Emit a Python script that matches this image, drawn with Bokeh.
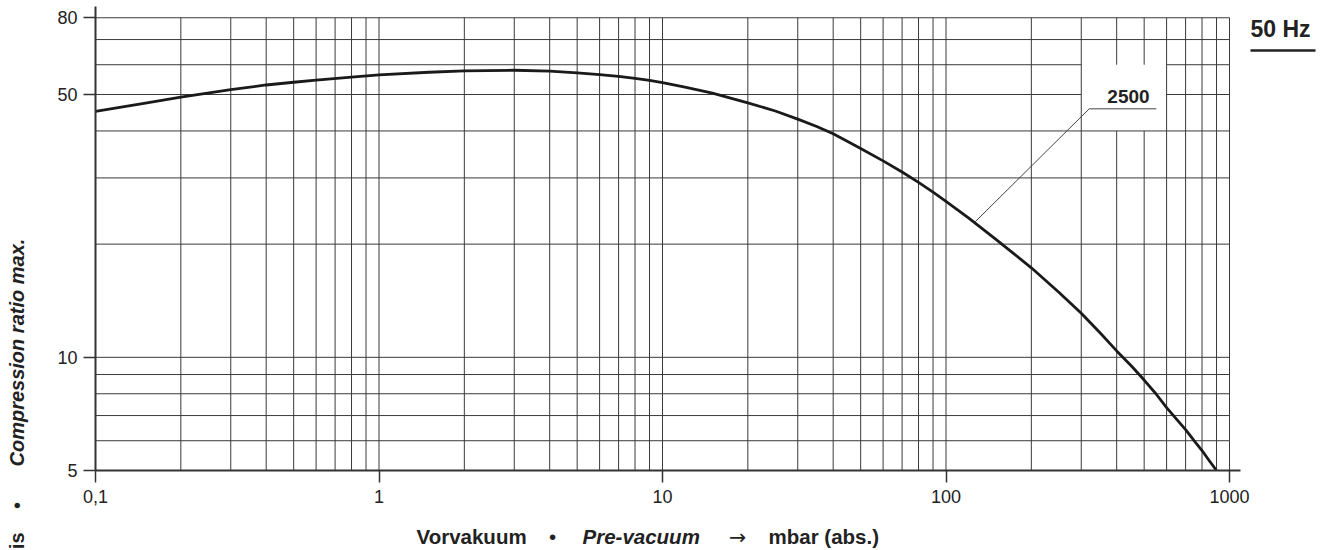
import numpy as np
from bokeh.plotting import figure
from bokeh.models import Range1d, FixedTicker, CustomJSTickFormatter, Label, BoxAnnotation
from bokeh.embed import file_html
from bokeh.resources import INLINE

# ---- data ----
pressure = [0.1, 0.15, 0.2, 0.3, 0.4, 0.5, 0.6, 0.8, 1.0, 1.5,
            2, 3, 4, 5, 6, 7, 8, 9, 10, 12,
            15, 20, 25, 30, 35, 40, 45, 50, 60, 70,
            80, 90, 100, 120, 150, 200, 250, 300, 350, 400,
            450, 500, 550, 600, 650, 700, 750, 800, 850, 900]
compression = [45.1, 47.4, 49.2, 51.5, 53.0, 53.9, 54.6, 55.6, 56.4, 57.3,
               57.8, 58.0, 57.7, 57.1, 56.5, 55.9, 55.2, 54.5, 53.8, 52.3,
               50.4, 47.5, 45.2, 43.0, 41.1, 39.3, 37.5, 35.9, 33.3, 31.1,
               29.2, 27.5, 26.0, 23.5, 20.6, 17.3, 14.9, 13.1, 11.6, 10.4,
               9.5, 8.7, 8.0, 7.35, 6.85, 6.42, 6.0, 5.65, 5.3, 5.0]
series_name = "2500"

x_tick_values = [0.1, 1, 10, 100, 1000]
x_tick_labels = ["0,1", "1", "10", "100", "1000"]
y_tick_values = [5, 10, 50, 80]
y_tick_labels = ["5", "10", "50", "80"]

x_grid = [0.2, 0.3, 0.4, 0.5, 0.6, 0.7, 0.8, 0.9,
          1, 2, 3, 4, 5, 6, 7, 8, 9,
          10, 20, 30, 40, 50, 60, 70, 80, 90,
          100, 200, 300, 400, 500, 600, 700, 800, 900, 1000]
y_grid = [6, 7, 8, 9, 10, 20, 30, 40, 50, 60, 70, 80]
x_min, x_max = 0.1, 1000
y_min, y_max = 5, 80

# label box (grid left blank behind the series label)
gap_x = (300, 600)
gap_y = (40, 60)
leader_x = [126.5, 320, 552]
leader_y = [22.9, 45.8, 45.8]

# ---- layout geometry (canvas pixels) ----
W, H = 1328, 548
X0, XDEC = 95.0, 283.5      # pixel of 0.1 and pixels per decade
Y5, YDEC = 470.0, 376.0     # pixel of 5 and pixels per decade
x_start = 0.1 * 10 ** (-X0 / XDEC)
x_end = 0.1 * 10 ** ((W - X0) / XDEC)
y_start = 5 * 10 ** (-(H - Y5) / YDEC)
y_end = 5 * 10 ** (Y5 / YDEC)
x_axis_end = 0.1 * 10 ** ((1240 - X0) / XDEC)
y_axis_end = 5 * 10 ** ((Y5 - 6) / YDEC)

FONT = "Liberation Sans"
INK = "#222222"
BASE_SHIFT = 0.38  # em: label anchor vs. visual baseline

p = figure(width=W, height=H, x_axis_type="log", y_axis_type="log",
           x_range=Range1d(x_start, x_end), y_range=Range1d(y_start, y_end),
           output_backend="svg", toolbar_location=None,
           min_border_left=0, min_border_right=0, min_border_top=0, min_border_bottom=0)
p.outline_line_color = None
p.xgrid.visible = False
p.ygrid.visible = False
p.background_fill_color = "white"
p.border_fill_color = "white"

# ---- grid ----
x0s, y0s, x1s, y1s = [], [], [], []
for xv in x_grid:
    if gap_x[0] < xv < gap_x[1]:
        x0s += [xv, xv]; x1s += [xv, xv]
        y0s += [y_min, gap_y[1]]; y1s += [gap_y[0], y_max]
    else:
        x0s.append(xv); x1s.append(xv); y0s.append(y_min); y1s.append(y_max)
for yv in y_grid:
    if gap_y[0] < yv <= gap_y[1]:
        y0s += [yv, yv]; y1s += [yv, yv]
        x0s += [x_min, gap_x[1]]; x1s += [gap_x[0], x_max]
    else:
        y0s.append(yv); y1s.append(yv); x0s.append(x_min); x1s.append(x_max)
p.segment(x0=x0s, y0=y0s, x1=x1s, y1=y1s, line_color="#3a3a3a", line_width=1)

# ---- curve ----
p.line(pressure, compression, line_color="#1a1a1a", line_width=2.8, line_join="round")

# ---- leader ----
p.line(leader_x, leader_y, line_color="#444444", line_width=1)

# ---- axes ----
def fmt(vals, labs):
    return CustomJSTickFormatter(args=dict(vals=vals, labs=labs), code="""
        for (let i = 0; i < vals.length; i++) {
            if (Math.abs(Math.log10(vals[i]) - Math.log10(tick)) < 1e-6) return labs[i];
        }
        return "";
    """)

for ax in (p.xaxis[0], p.yaxis[0]):
    ax.axis_line_width = 2
    ax.axis_line_color = "#333333"
    ax.major_tick_line_color = "#333333"
    ax.major_tick_line_width = 1.5
    ax.major_tick_out = 12
    ax.major_tick_in = 0
    ax.minor_tick_line_color = None
    ax.major_label_text_font = FONT
    ax.major_label_text_font_size = "18px"
    ax.major_label_text_color = INK

p.xaxis.ticker = FixedTicker(ticks=x_tick_values)
p.xaxis.formatter = fmt(x_tick_values, x_tick_labels)
p.xaxis.major_label_standoff = 7
p.xaxis.fixed_location = y_min
p.xaxis.bounds = (x_min, x_axis_end)
p.yaxis.ticker = FixedTicker(ticks=y_tick_values)
p.yaxis.formatter = fmt(y_tick_values, y_tick_labels)
p.yaxis.major_label_standoff = 6
p.yaxis.fixed_location = x_min
p.yaxis.bounds = (y_min, y_axis_end)

# ---- texts (canvas pixels from top-left; (x, y) = visual baseline point) ----
def lab(text, x, y, style="bold", align="left", rotated=False, size=20.0, font=FONT):
    shift = BASE_SHIFT * size
    if rotated:
        ax_, ay_ = x - shift, y
    else:
        ax_, ay_ = x, y - shift
    p.add_layout(Label(x=ax_, y=H - ay_, x_units="screen", y_units="screen", text=text,
                       text_align=align, text_baseline="alphabetic",
                       angle=(np.pi / 2 if rotated else 0.0),
                       text_font=font, text_font_style=style,
                       text_font_size=f"{size}px", text_color=INK))

lab(series_name, 1128, 103.3, size=19.0, align="center")

lab("Vorvakuum", 416, 544, size=20.5)
lab("\u2022", 552, 544, style="normal", align="center", size=20.5)
lab("Pre-vacuum", 582, 544, style="bold italic", size=20.5)
lab("\u2192", 737, 544, style="normal", align="center", size=20.5, font="DejaVu Sans")
lab("mbar (abs.)", 768, 544, size=20.5)

lab("Compression ratio max.", 24.5, 466, style="bold italic", rotated=True)
lab("\u2022", 24.5, 505, style="normal", align="center", rotated=True)
lab("Kompressionsverh\u00e4ltnis", 24.5, 532, align="right", rotated=True)

lab("50 Hz", 1250, 37, size=23.0)
p.add_layout(BoxAnnotation(left=1250, right=1315, bottom=H - 51.2, top=H - 48.8,
                           left_units="screen", right_units="screen",
                           bottom_units="screen", top_units="screen",
                           fill_color=INK, fill_alpha=1.0, line_color=None))

open("out.html", "w").write(file_html(p, INLINE))
